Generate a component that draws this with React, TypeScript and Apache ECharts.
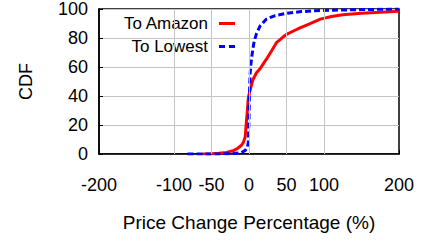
import React, { useEffect, useRef } from "react";
import * as echarts from "echarts";

const xTicks = [-200, -100, -50, 0, 50, 100, 200];
const xGridLines = [-100, -50, 0, 50, 100];

const amazonX = [-62, -50, -40, -30, -20, -15, -10, -7.5, -5, -4, -2.5, -1, 0, 1, 3, 5, 10, 15, 20, 24, 30, 37, 45, 50, 60, 68, 80, 95, 110, 125, 150, 175, 200];
const amazonY = [0, 0.2, 0.5, 1, 2.5, 4, 6, 8, 12, 19, 28, 38, 41, 43, 47, 51, 56, 59, 63, 66, 71, 77, 80.5, 82.5, 85, 87, 89.5, 93, 94.8, 96, 97, 97.8, 98.4];

const lowestX = [-82, -40, -20, -10, -5, -2, -1, 0, 0.5, 1, 1.5, 2.5, 3.5, 5, 7, 10, 15, 23, 35, 50, 70, 95, 150, 200];
const lowestY = [0, 0, 0.3, 1, 2.5, 5, 8, 25, 40, 48, 55, 62, 66, 72, 78, 83, 88.5, 93, 95.5, 97, 98.2, 99, 99.6, 100];

const FONT = "'Liberation Sans', Arial, Helvetica, sans-serif";
const GRID_STYLE = { color: "#c4c4c4", width: 1, type: "solid" };

export default function App() {
  const ref = useRef<HTMLDivElement>(null);
  useEffect(() => {
    const chart = echarts.init(ref.current!, null, { renderer: "svg" });
    const amazon = amazonX.map((x, i) => [x, amazonY[i]]);
    const lowest = lowestX.map((x, i) => [x, lowestY[i]]);
    chart.setOption({
      animation: false,
      textStyle: { fontFamily: FONT },
      grid: {
        left: 99,
        right: 29,
        top: 6,
        bottom: 91,
        show: true,
        borderColor: "#000",
        borderWidth: 1.5,
      },
      legend: {
        orient: "vertical",
        right: 188,
        top: 10,
        align: "right",
        itemGap: 6,
        itemWidth: 16,
        itemHeight: 3,
        textStyle: { fontSize: 17, color: "#000", fontFamily: FONT, padding: [0, 6, 0, 0] },
        data: [
          { name: "To Amazon", icon: "rect" },
          { name: "To Lowest", icon: "path://M0,0h6v3h-6z M10,0h6v3h-6z" },
        ],
      },
      xAxis: {
        type: "value",
        min: -200,
        max: 200,
        interval: 50,
        name: "Price Change Percentage (%)",
        nameLocation: "middle",
        nameGap: 59,
        nameTextStyle: { fontSize: 19, color: "#000", fontFamily: FONT },
        axisLine: { show: true, onZero: false, lineStyle: { color: "#000", width: 1.5 } },
        axisTick: { show: true, inside: true, length: 4, customValues: xTicks, lineStyle: { color: "#000" } },
        axisLabel: { customValues: xTicks, margin: 22, fontSize: 18, color: "#000", fontFamily: FONT },
        splitLine: { show: false },
      },
      yAxis: {
        type: "value",
        min: 0,
        max: 100,
        interval: 20,
        name: "CDF",
        nameLocation: "middle",
        nameGap: 64,
        nameTextStyle: { fontSize: 18, color: "#000", fontFamily: FONT },
        axisLine: { show: true, onZero: false, lineStyle: { color: "#000", width: 1.5 } },
        axisTick: { show: true, inside: true, length: 4, lineStyle: { color: "#000" } },
        axisLabel: { margin: 11, fontSize: 18, color: "#000", fontFamily: FONT, padding: [6, 0, 0, 0] },
        splitLine: { show: true, lineStyle: GRID_STYLE },
      },
      series: [
        {
          name: "grid",
          type: "line",
          data: [],
          silent: true,
          z: 1,
          markLine: {
            silent: true,
            symbol: "none",
            label: { show: false },
            lineStyle: GRID_STYLE,
            data: xGridLines.map((x) => ({ xAxis: x })),
          },
        },
        {
          name: "To Amazon",
          type: "line",
          data: amazon,
          showSymbol: false,
          symbol: "none",
          lineStyle: { color: "#ff0000", width: 3 },
          itemStyle: { color: "#ff0000" },
          z: 2,
        },
        {
          name: "To Lowest",
          type: "line",
          data: lowest,
          showSymbol: false,
          symbol: "none",
          lineStyle: { color: "#0000ff", width: 3, type: [6, 3] },
          itemStyle: { color: "#0000ff" },
          z: 3,
        },
      ],
    });
    return () => chart.dispose();
  }, []);
  return (
    <div
      ref={ref}
      style={{ position: "fixed", left: 0, top: 0, width: 428, height: 245, background: "#fff" }}
    />
  );
}
